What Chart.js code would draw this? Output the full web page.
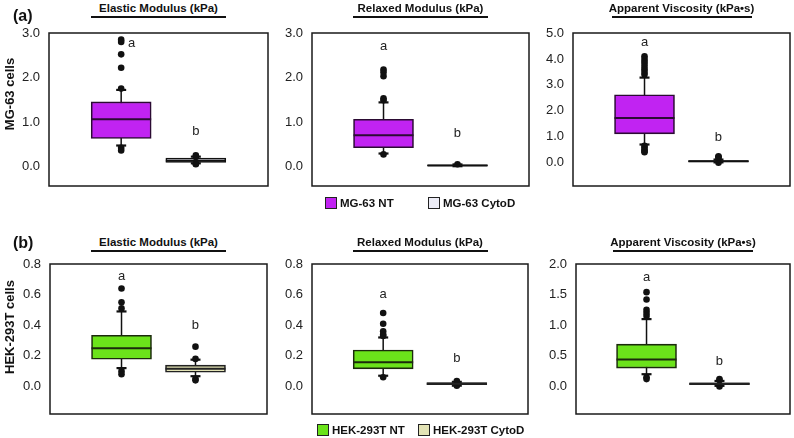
<!DOCTYPE html>
<html>
<head>
<meta charset="utf-8">
<script src="https://cdn.jsdelivr.net/npm/chart.js@4/dist/chart.umd.min.js"></script>
<style>
  html, body { margin: 0; padding: 0; background: #fff; }
  body { width: 794px; height: 438px; position: relative; overflow: hidden;
         font-family: Arial, "Liberation Sans", sans-serif; color: #111; }
  canvas { position: absolute; }
  .title { position: absolute; font-weight: bold; font-size: 11.5px; white-space: nowrap;
           transform: translate(-50%, -50%); }
  .uline { position: absolute; height: 1.5px; background: #111; }
  .panel { position: absolute; font-weight: bold; font-size: 16px; transform: translateY(-50%); }
  .ylab { position: absolute; font-weight: bold; font-size: 13px; white-space: nowrap;
          transform: translate(-50%, -50%) rotate(-90deg); }
  .leg { position: absolute; font-weight: bold; font-size: 11.5px; white-space: nowrap;
         transform: translateY(-50%); display: flex; align-items: center; }
  .leg i { display: inline-block; width: 10px; height: 10px; border: 1px solid #222; margin-right: 3px; }
</style>
</head>
<body>
<script>
/* ── data: [lower whisker, Q1, median, Q3, upper whisker] per group ── */
const groups = ['NT', 'CytoD'];

const mgElasticBox  = [[0.47, 0.63, 1.06, 1.45, 1.72], [0.07, 0.09, 0.13, 0.19, 0.22]];
const mgElasticOut  = [[2.85, 2.80, 2.52, 2.22, 1.75, 0.42, 0.36], [0.25, 0.21, 0.06, 0.05]];
const mgRelaxedBox  = [[0.29, 0.42, 0.70, 1.06, 1.44], [0.005, 0.01, 0.02, 0.035, 0.045]];
const mgRelaxedOut  = [[2.18, 2.12, 2.03, 1.53, 1.49, 0.27], [0.05]];
const mgViscBox     = [[0.70, 1.11, 1.72, 2.62, 3.28], [0.01, 0.03, 0.05, 0.08, 0.12]];
const mgViscOut     = [[4.1, 4.0, 3.9, 3.8, 3.7, 3.6, 3.5, 3.4, 0.65, 0.58, 0.5, 0.45, 0.4], [0.25, 0.22, 0.18, 0.0]];

const hekElasticBox = [[0.12, 0.178, 0.25, 0.334, 0.49], [0.067, 0.093, 0.115, 0.139, 0.175]];
const hekElasticOut = [[0.64, 0.55, 0.51, 0.10, 0.08], [0.26, 0.18, 0.05, 0.04]];
const hekRelaxedBox = [[0.07, 0.115, 0.158, 0.238, 0.32], [0.005, 0.012, 0.018, 0.025, 0.03]];
const hekRelaxedOut = [[0.48, 0.41, 0.36, 0.34, 0.33, 0.06], [0.035, 0.005]];
const hekViscBox    = [[0.20, 0.30, 0.44, 0.69, 1.10], [0.01, 0.03, 0.045, 0.06, 0.09]];
const hekViscOut    = [[1.54, 1.42, 1.25, 1.20, 1.15, 0.15, 0.12], [0.12, 0.10, 0.0]];

// significance letters: [x, y] in data units
const letters = ['a', 'b'];
const mgElasticLetters  = [[1.14, 2.76], [2, 0.79]];
const mgRelaxedLetters  = [[1, 2.70], [2, 0.75]];
const mgViscLetters     = [[1, 4.62], [2, 0.98]];
const hekElasticLetters = [[1, 0.72], [2, 0.40]];
const hekRelaxedLetters = [[1, 0.60], [2, 0.18]];
const hekViscLetters    = [[1, 1.78], [2, 0.41]];

// y-axis tick labels
const ticksThree = [0, 1, 2, 3];
const ticksFive  = [0, 1, 2, 3, 4, 5];
const ticksEight = [0, 0.2, 0.4, 0.6, 0.8];
const ticksTwo   = [0, 0.5, 1, 1.5, 2];

const titles = ['Elastic Modulus (kPa)', 'Relaxed Modulus (kPa)', 'Apparent Viscosity (kPa•s)'];
const mgLegend  = ['MG-63 NT', 'MG-63 CytoD'];
const hekLegend = ['HEK-293T NT', 'HEK-293T CytoD'];

/* ── styles ── */
const mgFill   = ['#c123f2', '#ececf6'];
const mgEdge   = ['#2b0b33', '#111111'];
const hekFill  = ['#6be31a', '#e3e3b5'];
const hekEdge  = ['#1b2a0c', '#222222'];

const PANELS = [
  { left: 49,  top: 32.5, w: 219, h: 153, min: -0.44, max: 3, ticks: ticksThree, box: mgElasticBox,  out: mgElasticOut,  let: mgElasticLetters,  fill: mgFill,  edge: mgEdge,  title: 0 },
  { left: 312, top: 32.5, w: 217, h: 153, min: -0.44, max: 3, ticks: ticksThree, box: mgRelaxedBox,  out: mgRelaxedOut,  let: mgRelaxedLetters,  fill: mgFill,  edge: mgEdge,  title: 1 },
  { left: 573, top: 32.5, w: 217, h: 153, min: -0.9,  max: 5, ticks: ticksFive,  box: mgViscBox,     out: mgViscOut,     let: mgViscLetters,     fill: mgFill,  edge: mgEdge,  title: 2 },
  { left: 50,  top: 264,  w: 217, h: 150, min: -0.18, max: 0.8, ticks: ticksEight, box: hekElasticBox, out: hekElasticOut, let: hekElasticLetters, fill: hekFill, edge: hekEdge, title: 0 },
  { left: 312, top: 264,  w: 216, h: 150, min: -0.18, max: 0.8, ticks: ticksEight, box: hekRelaxedBox, out: hekRelaxedOut, let: hekRelaxedLetters, fill: hekFill, edge: hekEdge, title: 1 },
  { left: 576, top: 264,  w: 214, h: 150, min: -0.45, max: 2, ticks: ticksTwo,   box: hekViscBox,    out: hekViscOut,    let: hekViscLetters,    fill: hekFill, edge: hekEdge, title: 2 },
];

const AXIS_W = 48, PAD_T = 10, PAD_B = 10, PAD_R = 4;

/* ── plugin: whiskers, medians, frame, letters ── */
const boxPlotPlugin = {
  id: 'boxPlot',
  beforeDatasetsDraw(chart) {
    const p = chart.options.plugins.boxPlot;
    const { ctx, scales: { x, y } } = chart;
    ctx.save();
    ctx.strokeStyle = '#111';
    p.box.forEach((b, i) => {
      const cx = x.getPixelForValue(i + 1);
      ctx.lineWidth = 1.5;
      ctx.beginPath();
      ctx.moveTo(cx, y.getPixelForValue(b[0]));
      ctx.lineTo(cx, y.getPixelForValue(b[4]));
      ctx.stroke();
      ctx.lineWidth = 2.2;
      [b[0], b[4]].forEach(v => {
        const py = y.getPixelForValue(v);
        ctx.beginPath();
        ctx.moveTo(cx - 5, py);
        ctx.lineTo(cx + 5, py);
        ctx.stroke();
      });
    });
    ctx.restore();
  },
  afterDatasetsDraw(chart) {
    const p = chart.options.plugins.boxPlot;
    const { ctx, chartArea: a, scales: { x, y } } = chart;
    ctx.save();
    // medians
    ctx.lineWidth = 2;
    p.box.forEach((b, i) => {
      const cx = x.getPixelForValue(i + 1);
      const py = y.getPixelForValue(b[2]);
      ctx.strokeStyle = p.edge[i];
      ctx.beginPath();
      ctx.moveTo(cx - 30, py);
      ctx.lineTo(cx + 30, py);
      ctx.stroke();
    });
    // frame
    ctx.strokeStyle = '#1a1a1a';
    ctx.lineWidth = 1.5;
    ctx.strokeRect(a.left, a.top, a.right - a.left, a.bottom - a.top);
    // letters
    ctx.fillStyle = '#222';
    ctx.font = '13px Arial, "Liberation Sans", sans-serif';
    ctx.textAlign = 'center';
    ctx.textBaseline = 'middle';
    p.letters.forEach((l, i) => {
      ctx.fillText(letters[i], x.getPixelForValue(l[0]), y.getPixelForValue(l[1]));
    });
    ctx.restore();
  }
};

PANELS.forEach(P => {
  const cv = document.createElement('canvas');
  const W = P.w + AXIS_W + PAD_R, H = P.h + PAD_T + PAD_B;
  cv.width = W; cv.height = H;
  cv.style.left = (P.left - AXIS_W) + 'px';
  cv.style.top = (P.top - PAD_T) + 'px';
  cv.style.width = W + 'px'; cv.style.height = H + 'px';
  document.body.appendChild(cv);

  const bars = groups.map((g, i) => ({
    type: 'bar',
    label: g,
    data: [{ x: i + 1, y: [P.box[i][1], P.box[i][3]] }],
    backgroundColor: P.fill[i],
    borderColor: P.edge[i],
    borderWidth: 1.6,
    borderSkipped: false,
    barThickness: 60,
    grouped: false,
    order: 2
  }));
  const points = groups.map((g, i) => ({
    type: 'line',
    label: g + ' outliers',
    data: P.out[i].map(v => ({ x: i + 1, y: v })),
    showLine: false,
    pointRadius: 3.3,
    pointBackgroundColor: '#111',
    pointBorderWidth: 0,
    order: 1
  }));

  new Chart(cv, {
    type: 'bar',
    data: { datasets: [...bars, ...points] },
    plugins: [boxPlotPlugin],
    options: {
      responsive: false,
      animation: false,
      events: [],
      layout: { padding: { top: PAD_T, bottom: PAD_B, right: PAD_R, left: 0 } },
      plugins: {
        legend: { display: false },
        tooltip: { enabled: false },
        boxPlot: { box: P.box, edge: P.edge, letters: P.let }
      },
      scales: {
        x: { type: 'linear', min: 0.4, max: 2.6, display: false },
        y: {
          min: P.min, max: P.max,
          grid: { display: false, drawTicks: false },
          border: { display: false },
          afterFit: s => { s.width = AXIS_W; s.paddingTop = 0; s.paddingBottom = 0; },
          afterBuildTicks: s => { s.ticks = P.ticks.map(v => ({ value: v })); },
          ticks: {
            padding: 9,
            color: '#222',
            font: { family: 'Arial, "Liberation Sans", sans-serif', size: 13 },
            callback: v => Number(v).toFixed(1)
          }
        }
      }
    }
  });

  // title with underline
  const cx = P.left + P.w / 2;
  const ty = P.top < 100 ? 8 : 242;
  const t = document.createElement('div');
  t.className = 'title';
  t.textContent = titles[P.title];
  t.style.left = cx + 'px'; t.style.top = ty + 'px';
  document.body.appendChild(t);
  const u = document.createElement('div');
  const uw = P.title === 2 ? 140 : 135;
  u.className = 'uline';
  u.style.left = (cx - uw / 2) + 'px'; u.style.top = (ty + 8) + 'px'; u.style.width = uw + 'px';
  document.body.appendChild(u);
});

function addText(cls, text, x, y) {
  const d = document.createElement('div');
  d.className = cls;
  d.textContent = text;
  d.style.left = x + 'px'; d.style.top = y + 'px';
  document.body.appendChild(d);
  return d;
}
addText('panel', '(a)', 13, 16);
addText('panel', '(b)', 13, 243);
addText('ylab', 'MG-63 cells', 9, 94);
addText('ylab', 'HEK-293T cells', 9, 327);

function addLegend(labels, fills, xs, y) {
  labels.forEach((l, i) => {
    const d = addText('leg', '', xs[i], y);
    const sw = document.createElement('i');
    sw.style.background = fills[i];
    d.appendChild(sw);
    d.appendChild(document.createTextNode(l));
  });
}
addLegend(mgLegend, mgFill, [325, 428], 203);
addLegend(hekLegend, hekFill, [317, 418], 430);
</script>
</body>
</html>
